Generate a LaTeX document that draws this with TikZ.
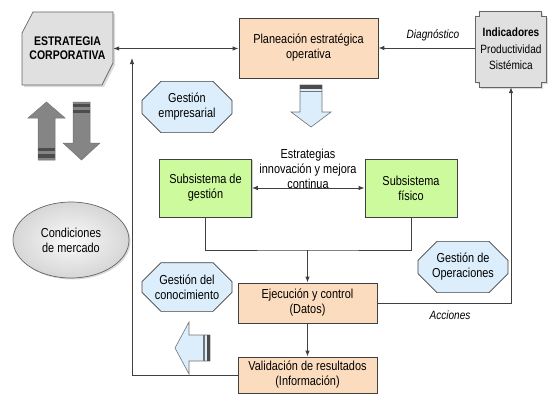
\documentclass[tikz,border=0pt]{standalone}
\usepackage{fontspec}
\setmainfont{Liberation Sans}[FakeStretch=0.84]
\usetikzlibrary{arrows.meta,shapes.misc,shapes.geometric,shadows,calc}
\definecolor{peach}{HTML}{FCDCBE}
\definecolor{lgreen}{HTML}{CCFA9C}
\definecolor{lblue}{HTML}{DCEEFB}
\definecolor{lgray}{HTML}{E0E0E0}
\definecolor{agray}{HTML}{858585}
\definecolor{edge}{HTML}{404040}
\tikzset{
  txt/.style={font=\fontsize{13}{15}\selectfont, align=center, inner sep=0pt},
  box/.style={txt, draw=edge, line width=0.8pt, fill=peach, minimum width=139pt,
    drop shadow={shadow xshift=1.2pt, shadow yshift=-1.2pt, opacity=0.4}},
  gbox/.style={box, fill=lgreen, minimum width=92pt, minimum height=58pt},
  octo/.style={txt, chamfered rectangle, chamfered rectangle xsep=7pt,
    chamfered rectangle ysep=12pt, draw=edge, line width=0.7pt, fill=lblue,
    minimum width=90pt, minimum height=43pt},
  conn/.style={draw=edge, line width=0.9pt},
  arr/.style={conn, -{Latex[length=6pt,width=4.5pt]}},
  darr/.style={conn, {Latex[length=6pt,width=4.5pt]}-{Latex[length=6pt,width=4.5pt]}},
  lab/.style={font=\fontsize{12}{14}\selectfont\itshape, inner sep=0pt},
  bigarr/.style={fill=agray, draw=black!55, line width=0.5pt},
  hollow/.style={fill=lblue, draw=black!55, line width=0.6pt},
  shad/.style={fill=black!40, opacity=0.35},
}
\begin{document}
\begin{tikzpicture}[x=1pt,y=-1pt]
\useasboundingbox (0,0) rectangle (548,396);

% ESTRATEGIA CORPORATIVA
\fill[shad] (24,35) -- (35,14) -- (115,14) -- (115,65) -- (104,87) -- (24,87) -- cycle;
\draw[fill=lgray, draw=black!60, line width=0.7pt] (22,33) -- (33,12) -- (113,12) -- (113,63) -- (102,85) -- (22,85) -- cycle;
\node[txt, font=\fontsize{12.5}{14}\selectfont\bfseries, minimum width=91pt, minimum height=73pt] (est) at (67.5,48.5) {ESTRATEGIA\\CORPORATIVA};

% Indicadores
\fill[shad] (481,13) -- (543,13) |- (548,18) -- (548,84) -| (543,89) -- (481,89) |- (477,84) -- (477,18) -| (481,13) -- cycle;
\draw[fill=lgray, draw=black!60, line width=0.7pt] (479,11) -- (541,11) |- (546,16) -- (546,82) -| (541,87) -- (479,87) |- (475,82) -- (475,16) -| (479,11) -- cycle;
\node[txt, minimum width=71pt, minimum height=76pt, font=\fontsize{12}{16.5}\selectfont] (ind) at (511,49) {\textbf{Indicadores}\\Productividad\\Sistémica};

% main boxes
\node[box, minimum height=60pt] (plan) at (308.5,48) {Planeación estratégica\\operativa};
\node[gbox] (sg) at (205.5,188) {Subsistema de\\gestión};
\node[gbox] (sf) at (411,188) {Subsistema\\físico};
\node[box, minimum height=40pt] (eje) at (307.5,303) {Ejecución y control\\(Datos)};
\node[box, minimum height=36pt] (val) at (307.5,375) {Validación de resultados\\(Información)};

% octagons
\node[octo] (ge) at (187,107) {Gestión\\empresarial};
\node[octo] (gc) at (187,287) {Gestión del\\conocimiento};
\node[octo, minimum height=48pt] (go) at (463,267) {Gestión de\\Operaciones};

% ellipse
\node[txt, ellipse, minimum width=116pt, minimum height=76pt, draw=black!60, line width=0.7pt,
  inner color=gray!4, outer color=gray!32,
  drop shadow={shadow xshift=1.5pt, shadow yshift=-1.5pt, opacity=0.3}] (cm) at (71,240) {Condiciones\\de mercado};

% connectors
\draw[darr] (est.east) -- (plan.west |- est.east);
\coordinate (fb) at (132,58);
\draw[arr] (val.west) -| (fb);
\draw[arr] (ind.west |- plan.east) -- (plan.east);
\node[lab] (diag) at (433,35) {Diagnóstico};
\draw[darr] (sg.east) -- (sf.west);
\node[txt] (estr) at (308,169) {Estrategias\\innovación y mejora\\continua};
\coordinate (j) at (307.5,250);
\draw[conn] (sg.south) |- (j) -| (sf.south);
\draw[arr] (j) -- (eje.north);
\draw[arr] (eje.south) -- (val.north);
\draw[arr] (eje.east) -| (ind.south);
\node[lab] (acc) at (450,315) {Acciones};

% big gray arrows
\draw[bigarr] (46.5,102) -- (65,118) -- (55,118) -- (55,160) -- (38,160) -- (38,118) -- (28,118) -- cycle;
\fill[black!70] (38,148) rectangle (55,151);
\fill[black!70] (38,154) rectangle (55,158);
\draw[bigarr] (73,102) -- (90,102) -- (90,143) -- (100,143) -- (81.5,160) -- (63,143) -- (73,143) -- cycle;
\fill[black!70] (73,104) rectangle (90,107);
\fill[black!70] (73,110) rectangle (90,113);

% hollow down arrow
\draw[hollow] (300,85) -- (322,85) -- (322,112) -- (331,112) -- (311,127) -- (291,112) -- (300,112) -- cycle;
\fill[black!70] (300,85) rectangle (322,88.5);
\fill[black!55] (300,90.5) rectangle (322,92);

% hollow left arrow
\draw[hollow] (175,348) -- (189,322) -- (189,335) -- (210,335) -- (210,361) -- (189,361) -- (189,374) -- cycle;
\fill[black!70] (206.5,335) rectangle (210,361);
\fill[black!55] (203,335) rectangle (204.5,361);
\end{tikzpicture}
\end{document}
